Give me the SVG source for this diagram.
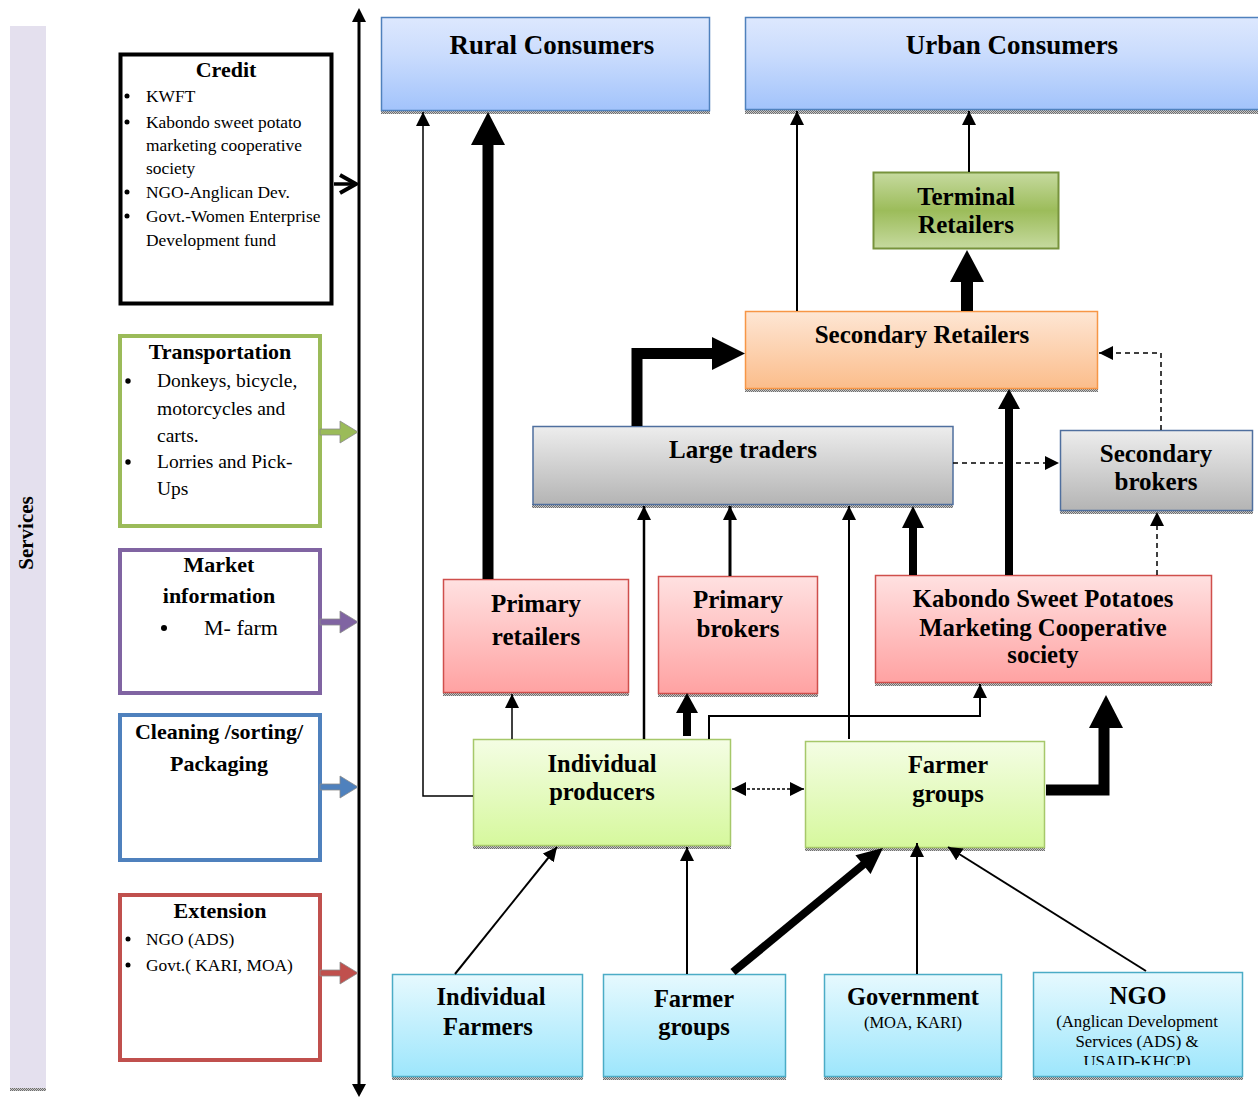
<svg xmlns="http://www.w3.org/2000/svg" width="1258" height="1097" viewBox="0 0 1258 1097">
<defs>
<style>
.t{font-family:"Liberation Serif","Times New Roman",serif;font-weight:bold;fill:#000;text-anchor:middle}
.r{font-family:"Liberation Serif","Times New Roman",serif;fill:#000}
.rc{font-family:"Liberation Serif","Times New Roman",serif;fill:#000;text-anchor:middle}
.svc{fill:#fff;stroke-width:4}
.ln{fill:none;stroke:#000}
.dash{fill:none;stroke:#000;stroke-width:1.5;stroke-dasharray:5,4}
.thick{fill:none;stroke:#000;stroke-linejoin:miter}
.shadow{fill:url(#dots)}
</style>
<pattern id="dots" width="2" height="2" patternUnits="userSpaceOnUse"><rect width="2" height="2" fill="#c8c8c8"/><rect width="1" height="1" fill="#6e6e6e"/><rect x="1" y="1" width="1" height="1" fill="#6e6e6e"/></pattern>
<linearGradient id="gBlue" x1="0" y1="0" x2="0" y2="1"><stop offset="0" stop-color="#dde8fe"/><stop offset="0.4" stop-color="#cadcfd"/><stop offset="1" stop-color="#a2c3fb"/></linearGradient>
<linearGradient id="gGreen" x1="0" y1="0" x2="0" y2="1"><stop offset="0" stop-color="#c6da9f"/><stop offset="0.5" stop-color="#9cbc5a"/><stop offset="1" stop-color="#c6da9f"/></linearGradient>
<linearGradient id="gOrange" x1="0" y1="0" x2="0" y2="1"><stop offset="0" stop-color="#fee6d4"/><stop offset="1" stop-color="#fbbd8b"/></linearGradient>
<linearGradient id="gGray" x1="0" y1="0" x2="0" y2="1"><stop offset="0" stop-color="#ededed"/><stop offset="1" stop-color="#b4b4b4"/></linearGradient>
<linearGradient id="gPink" x1="0" y1="0" x2="0" y2="1"><stop offset="0" stop-color="#ffe1e1"/><stop offset="1" stop-color="#ffa2a2"/></linearGradient>
<linearGradient id="gLime" x1="0" y1="0" x2="0" y2="1"><stop offset="0" stop-color="#f4fde4"/><stop offset="1" stop-color="#d6f89d"/></linearGradient>
<linearGradient id="gCyan" x1="0" y1="0" x2="0" y2="1"><stop offset="0" stop-color="#e6f9fe"/><stop offset="1" stop-color="#9de6fc"/></linearGradient>
<marker id="ah" viewBox="0 0 14 14" markerWidth="14" markerHeight="14" refX="14" refY="7" orient="auto" markerUnits="userSpaceOnUse"><path d="M0,0 L14,7 L0,14 z" fill="#000"/></marker>
<marker id="ah2" viewBox="0 0 14 14" markerWidth="14" markerHeight="14" refX="14" refY="7" orient="auto-start-reverse" markerUnits="userSpaceOnUse"><path d="M0,0 L14,7 L0,14 z" fill="#000"/></marker>
<clipPath id="ngoClip"><rect x="1033" y="972" width="210" height="93"/></clipPath>
</defs>

<!-- Services bar -->
<g id="services">
<rect x="10" y="26" width="36" height="1064" fill="#e4e0ee"/>
<rect x="10" y="1088" width="36" height="3" class="shadow"/>
<text class="t" font-size="21" transform="translate(33,533) rotate(-90)">Services</text>
</g>

<!-- Axis -->
<g id="axis">
<line x1="359" y1="20" x2="359" y2="1085" stroke="#000" stroke-width="3"/>
<polygon points="352,22 366,22 359,8" fill="#000"/>
<polygon points="352,1084 366,1084 359,1097" fill="#000"/>
</g>

<!-- Service boxes -->
<g id="credit">
<rect x="120.5" y="54.5" width="211" height="249" class="svc" stroke="#000"/>
<text class="t" font-size="22" x="226" y="77">Credit</text>
<g class="r" font-size="17.4">
<text x="146" y="101.5">KWFT</text>
<text x="146" y="128">Kabondo sweet potato</text>
<text x="146" y="151">marketing cooperative</text>
<text x="146" y="174">society</text>
<text x="146" y="198">NGO-Anglican Dev.</text>
<text x="146" y="222">Govt.-Women Enterprise</text>
<text x="146" y="246">Development fund</text>
</g>
<g fill="#000"><circle cx="127" cy="96" r="2.5"/><circle cx="127" cy="122" r="2.5"/><circle cx="127" cy="192" r="2.5"/><circle cx="127" cy="216" r="2.5"/></g>
</g>

<g id="transportation">
<rect x="120" y="336" width="200" height="190" class="svc" stroke="#9bbb59"/>
<text class="t" font-size="22" x="220" y="359">Transportation</text>
<g class="r" font-size="19.5">
<text x="157" y="387">Donkeys, bicycle,</text>
<text x="157" y="415">motorcycles and</text>
<text x="157" y="442">carts.</text>
<text x="157" y="468">Lorries and Pick-</text>
<text x="157" y="495">Ups</text>
</g>
<g fill="#000"><circle cx="128" cy="381" r="2.7"/><circle cx="128" cy="462" r="2.7"/></g>
</g>

<g id="market-information">
<rect x="120" y="550" width="200" height="143" class="svc" stroke="#8064a2"/>
<text class="t" font-size="22" x="219" y="572">Market</text>
<text class="t" font-size="22" x="219" y="603">information</text>
<circle cx="164" cy="628" r="3" fill="#000"/>
<text class="r" font-size="22" x="204" y="635">M- farm</text>
</g>

<g id="cleaning">
<rect x="120" y="715" width="200" height="145" class="svc" stroke="#4f81bd"/>
<text class="t" font-size="22" x="219" y="739">Cleaning /sorting/</text>
<text class="t" font-size="22" x="219" y="771">Packaging</text>
</g>

<g id="extension">
<rect x="120" y="895" width="200" height="165" class="svc" stroke="#c0504d"/>
<text class="t" font-size="22" x="220" y="918">Extension</text>
<g class="r" font-size="17.4">
<text x="146" y="945">NGO (ADS)</text>
<text x="146" y="971">Govt.( KARI, MOA)</text>
</g>
<g fill="#000"><circle cx="128" cy="939" r="2.5"/><circle cx="128" cy="965" r="2.5"/></g>
</g>

<!-- Service arrows -->
<g id="service-arrows">
<line x1="334" y1="184" x2="355" y2="184" stroke="#000" stroke-width="3.5"/>
<polyline points="340,175 356,184 340,193" fill="none" stroke="#000" stroke-width="4"/>
<g transform="translate(0,432)"><polygon points="320,-3 340,-3 340,-11 358,0 340,11 340,3 320,3" fill="#9bbb59" stroke="#8a8a8a" stroke-width="0.8"/></g>
<g transform="translate(0,622)"><polygon points="320,-3 340,-3 340,-11 358,0 340,11 340,3 320,3" fill="#8064a2" stroke="#8a8a8a" stroke-width="0.8"/></g>
<g transform="translate(0,787)"><polygon points="320,-3 340,-3 340,-11 358,0 340,11 340,3 320,3" fill="#4f81bd" stroke="#8a8a8a" stroke-width="0.8"/></g>
<g transform="translate(0,973)"><polygon points="320,-3 340,-3 340,-11 358,0 340,11 340,3 320,3" fill="#c0504d" stroke="#8a8a8a" stroke-width="0.8"/></g>
</g>

<!-- Nodes -->
<g id="rural-consumers">
<rect x="381" y="110" width="329" height="4" class="shadow"/>
<rect x="381.5" y="17.5" width="328" height="93" fill="url(#gBlue)" stroke="#4f81bd" stroke-width="1.5"/>
<text class="t" font-size="27" x="552" y="54">Rural Consumers</text>
</g>
<g id="urban-consumers">
<rect x="745" y="110" width="513" height="4" class="shadow"/>
<rect x="745.5" y="17.5" width="514" height="92" fill="url(#gBlue)" stroke="#4f81bd" stroke-width="1.5"/>
<text class="t" font-size="27" x="1012" y="54">Urban Consumers</text>
</g>
<g id="terminal-retailers">
<rect x="873.5" y="172.5" width="185" height="76" fill="url(#gGreen)" stroke="#77933c" stroke-width="2"/>
<text class="t" font-size="25" x="966" y="205">Terminal</text>
<text class="t" font-size="25" x="966" y="233">Retailers</text>
</g>
<g id="secondary-retailers">
<rect x="745" y="388" width="353" height="4" class="shadow"/>
<rect x="745.5" y="311.5" width="352" height="77" fill="url(#gOrange)" stroke="#f79646" stroke-width="1.5"/>
<text class="t" font-size="25" x="922" y="343">Secondary Retailers</text>
</g>
<g id="large-traders">
<rect x="532" y="504" width="421" height="4" class="shadow"/>
<rect x="533" y="426.5" width="420" height="78" fill="url(#gGray)" stroke="#4f6f9e" stroke-width="1.5"/>
<text class="t" font-size="25" x="743" y="458">Large traders</text>
</g>
<g id="secondary-brokers">
<rect x="1060" y="510" width="193" height="4" class="shadow"/>
<rect x="1060.5" y="430.5" width="192" height="80" fill="url(#gGray)" stroke="#4f6f9e" stroke-width="1.5"/>
<text class="t" font-size="25" x="1156" y="462">Secondary</text>
<text class="t" font-size="25" x="1156" y="490">brokers</text>
</g>
<g id="primary-retailers">
<rect x="443" y="692" width="186" height="4" class="shadow"/>
<rect x="443.5" y="579.5" width="185" height="113" fill="url(#gPink)" stroke="#cf4f4c" stroke-width="1.5"/>
<text class="t" font-size="25" x="536" y="612">Primary</text>
<text class="t" font-size="25" x="536" y="645">retailers</text>
</g>
<g id="primary-brokers">
<rect x="658" y="693" width="160" height="4" class="shadow"/>
<rect x="658.5" y="576.5" width="159" height="117" fill="url(#gPink)" stroke="#cf4f4c" stroke-width="1.5"/>
<text class="t" font-size="25" x="738" y="608">Primary</text>
<text class="t" font-size="25" x="738" y="637">brokers</text>
</g>
<g id="kabondo-cooperative">
<rect x="875" y="682" width="337" height="4" class="shadow"/>
<rect x="875.5" y="575.5" width="336" height="107" fill="url(#gPink)" stroke="#cf4f4c" stroke-width="1.5"/>
<text class="t" font-size="24.7" x="1043" y="607">Kabondo Sweet Potatoes</text>
<text class="t" font-size="24.7" x="1043" y="636">Marketing Cooperative</text>
<text class="t" font-size="24.7" x="1043" y="663">society</text>
</g>
<g id="individual-producers">
<rect x="473" y="845" width="258" height="4" class="shadow"/>
<rect x="473.5" y="739.5" width="257" height="106" fill="url(#gLime)" stroke="#a6c86a" stroke-width="1.5"/>
<text class="t" font-size="24.5" x="602" y="772">Individual</text>
<text class="t" font-size="24.5" x="602" y="800">producers</text>
</g>
<g id="farmer-groups-mid">
<rect x="805" y="847" width="240" height="4" class="shadow"/>
<rect x="805.5" y="741.5" width="239" height="106" fill="url(#gLime)" stroke="#a6c86a" stroke-width="1.5"/>
<text class="t" font-size="24.5" x="948" y="773">Farmer</text>
<text class="t" font-size="24.5" x="948" y="802">groups</text>
</g>
<g id="individual-farmers">
<rect x="392" y="1076" width="191" height="4" class="shadow"/>
<rect x="392.5" y="974.5" width="190" height="102" fill="url(#gCyan)" stroke="#4bacc6" stroke-width="1.5"/>
<text class="t" font-size="24.5" x="491" y="1005">Individual</text>
<text class="t" font-size="24.5" x="488" y="1035">Farmers</text>
</g>
<g id="farmer-groups-bottom">
<rect x="603" y="1076" width="183" height="4" class="shadow"/>
<rect x="603.5" y="974.5" width="182" height="102" fill="url(#gCyan)" stroke="#4bacc6" stroke-width="1.5"/>
<text class="t" font-size="24.5" x="694" y="1007">Farmer</text>
<text class="t" font-size="24.5" x="694" y="1035">groups</text>
</g>
<g id="government">
<rect x="824" y="1076" width="178" height="4" class="shadow"/>
<rect x="824.5" y="974.5" width="177" height="102" fill="url(#gCyan)" stroke="#4bacc6" stroke-width="1.5"/>
<text class="t" font-size="24.5" x="913" y="1005">Government</text>
<text class="rc" font-size="16.5" x="913" y="1028">(MOA, KARI)</text>
</g>
<g id="ngo">
<rect x="1033" y="1076" width="210" height="4" class="shadow"/>
<rect x="1033.5" y="972.5" width="209" height="104" fill="url(#gCyan)" stroke="#4bacc6" stroke-width="1.5"/>
<text class="t" font-size="25" x="1138" y="1004">NGO</text>
<g clip-path="url(#ngoClip)">
<text class="rc" font-size="16.8" x="1137" y="1027">(Anglican Development</text>
<text class="rc" font-size="16.8" x="1137" y="1047">Services (ADS) &amp;</text>
<text class="rc" font-size="16.8" x="1137" y="1067">USAID-KHCP)</text>
</g>
</g>

<!-- Connectors -->
<g id="connectors">
<!-- thin -->
<path class="ln" stroke-width="1.5" d="M473,796 H423 V112" marker-end="url(#ah)"/>
<path class="ln" stroke-width="2" stroke="#444" d="M797,311 V111" marker-end="url(#ah)"/>
<path class="ln" stroke-width="2" stroke="#444" d="M969,172 V111" marker-end="url(#ah)"/>
<path class="ln" stroke-width="1.5" d="M512,739 V694" marker-end="url(#ah)"/>
<path class="ln" stroke-width="2.5" d="M644,739 V506" marker-end="url(#ah)"/>
<path class="ln" stroke-width="3" d="M730,576 V506" marker-end="url(#ah)"/>
<path class="ln" stroke-width="2" d="M849,739 V506" marker-end="url(#ah)"/>
<path class="ln" stroke-width="2" d="M709,739 V716 H980 V684" marker-end="url(#ah)"/>
<path class="ln" stroke-width="2" d="M455,974 L557,847" marker-end="url(#ah)"/>
<path class="ln" stroke-width="2" d="M687,974 V847" marker-end="url(#ah)"/>
<path class="ln" stroke-width="2" d="M917,974 V843" marker-end="url(#ah)"/>
<path class="ln" stroke-width="2" d="M1146,971 L948,847" marker-end="url(#ah)"/>
<!-- dashed -->
<path class="dash" d="M1161,430 V353 H1099" marker-end="url(#ah)"/>
<path class="dash" d="M953,463 H1059" marker-end="url(#ah)"/>
<path class="dash" d="M1157,575 V512" marker-end="url(#ah)"/>
<path class="ln" stroke-width="1.3" stroke-dasharray="3,2" d="M732,789 H804" marker-start="url(#ah2)" marker-end="url(#ah2)"/>
<!-- thick -->
<path class="thick" stroke-width="11" d="M488,579 V144"/>
<polygon points="471,145 505,145 488,112" fill="#000"/>
<path class="thick" stroke-width="12" d="M967,311 V281"/>
<polygon points="950,282 984,282 967,250" fill="#000"/>
<path class="thick" stroke-width="11" d="M637,426 V353.5 H714"/>
<polygon points="712,337 712,370 745,353.5" fill="#000"/>
<path class="thick" stroke-width="8" d="M1009,575 V407"/>
<polygon points="998,409 1020,409 1009,389" fill="#000"/>
<path class="thick" stroke-width="8" d="M913,575 V526"/>
<polygon points="902,528 924,528 913,506" fill="#000"/>
<path class="thick" stroke-width="8" d="M687,736 V711"/>
<polygon points="676,713 698,713 687,693" fill="#000"/>
<path class="thick" stroke-width="11" d="M1046,790 H1104 V726"/>
<polygon points="1089,728 1123,728 1106,695" fill="#000"/>
<path class="thick" stroke-width="8" d="M733,972 L864,864"/>
<polygon points="870.6,873.9 855.4,855.3 883,848" fill="#000"/>
</g>
</svg>
